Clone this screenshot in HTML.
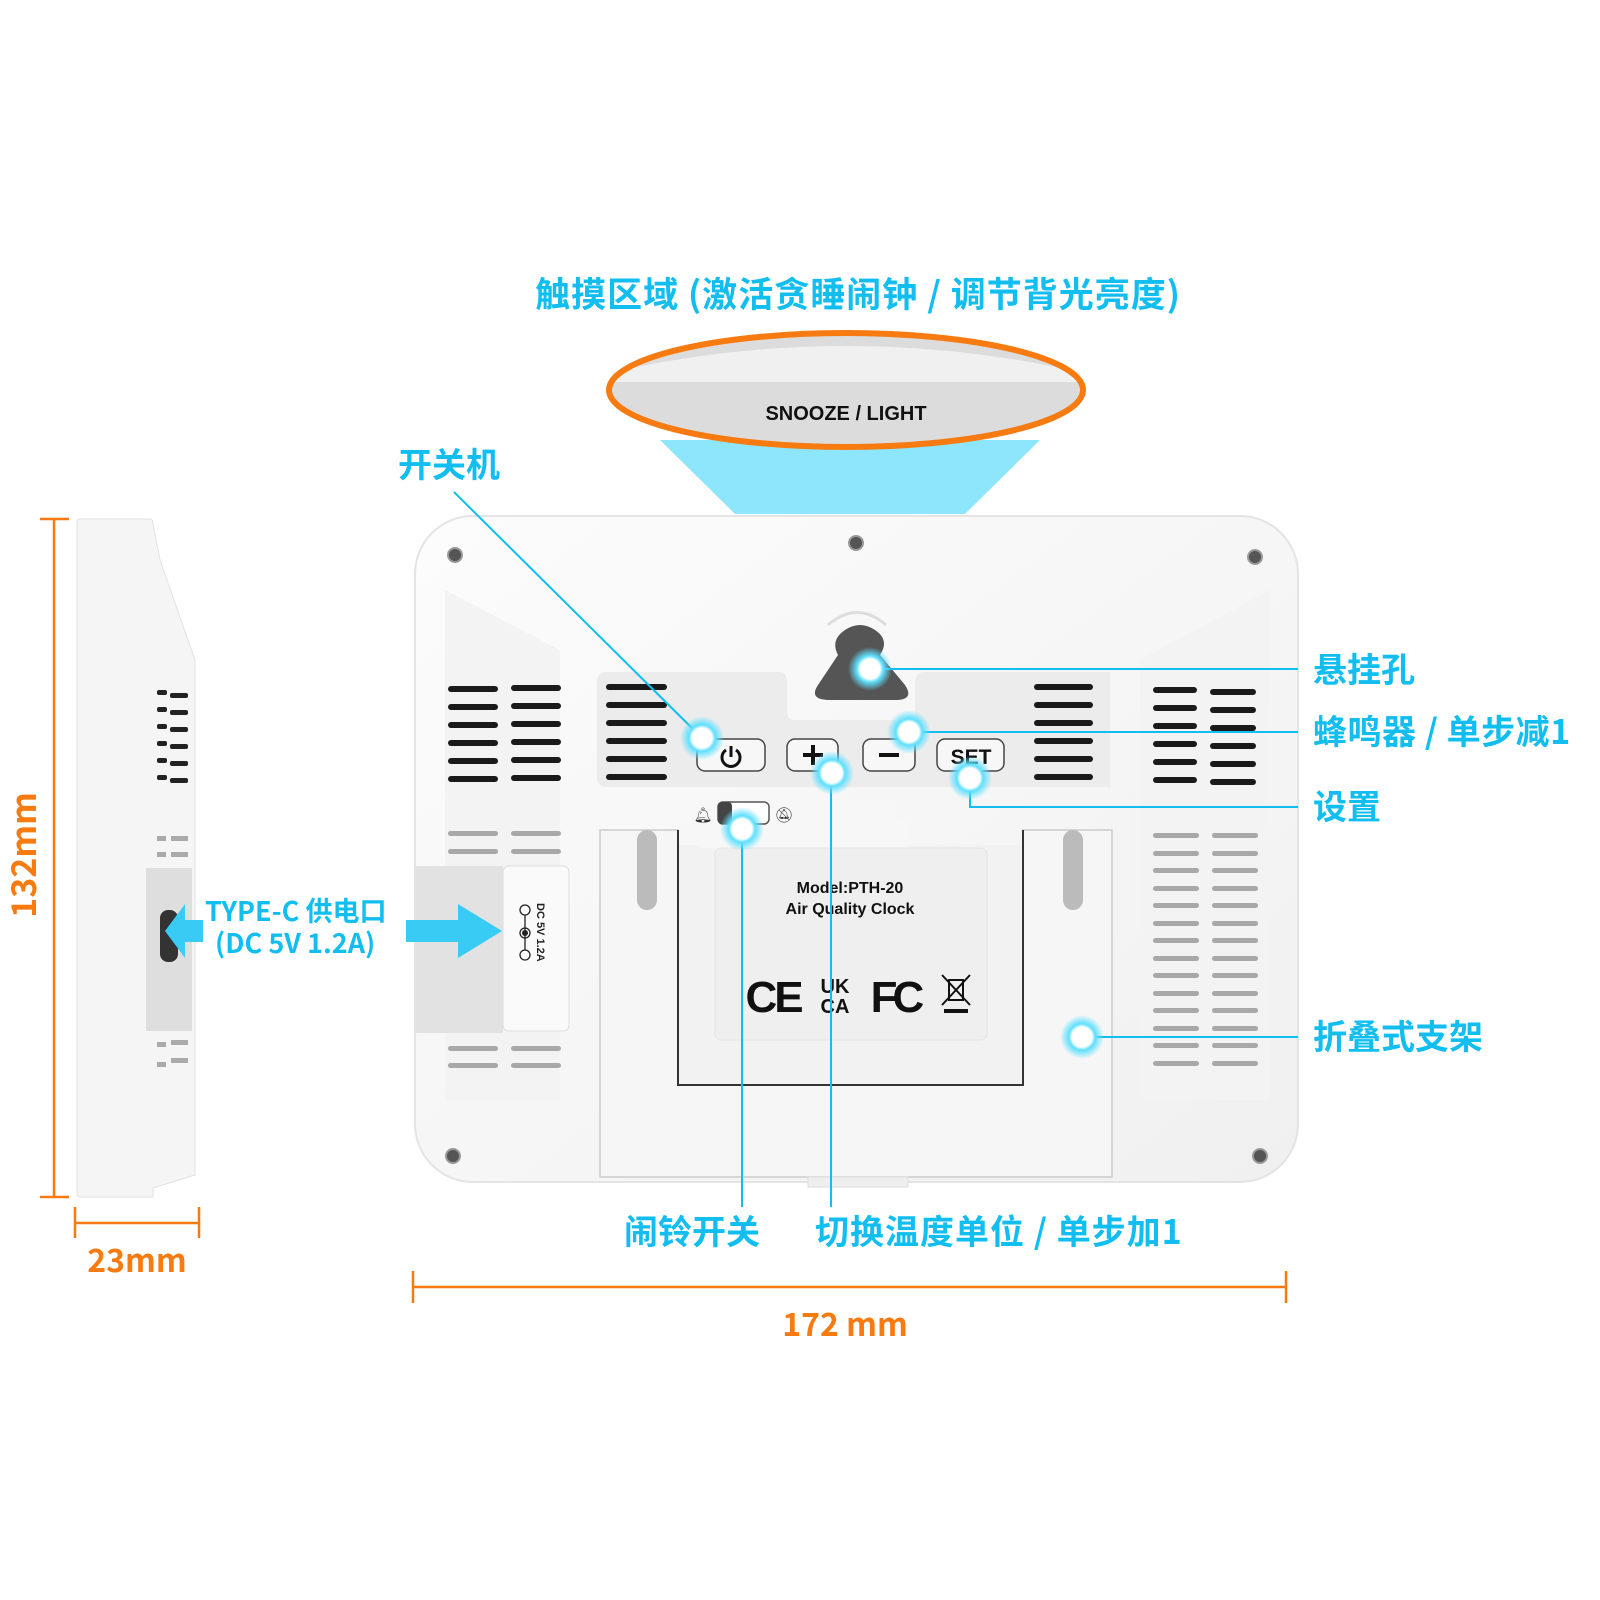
<!DOCTYPE html>
<html><head><meta charset="utf-8"><style>
html,body{margin:0;padding:0;background:#fff;}
svg{display:block;}
text{font-family:"Liberation Sans","Noto Sans CJK SC",sans-serif;}
.cn{font-family:"Noto Sans CJK SC","WenQuanYi Zen Hei",sans-serif;font-weight:700;fill:#12bdf0;}
.or{font-family:"Noto Sans CJK SC",sans-serif;font-weight:700;fill:#f77b10;}
</style></head><body>
<svg width="1600" height="1600" viewBox="0 0 1600 1600" xmlns="http://www.w3.org/2000/svg">
<defs>
<radialGradient id="glow"><stop offset="0.45" stop-color="#fff"/><stop offset="0.6" stop-color="#5fe0ff"/><stop offset="1" stop-color="#5fe0ff" stop-opacity="0"/></radialGradient>
<linearGradient id="body" x1="0" y1="0" x2="1" y2="1"><stop offset="0" stop-color="#fcfcfc"/><stop offset="1" stop-color="#f0f0f0"/></linearGradient>
</defs>

<text class="cn" x="858" y="307" font-size="35" letter-spacing="1" text-anchor="middle">触摸区域 (激活贪睡闹钟 / 调节背光亮度)</text>

<polygon points="660,440 1040,440 965,514 735,514" fill="#8ee6fc"/>
<ellipse cx="846" cy="390" rx="237" ry="57" fill="#dcdcdc"/>
<path d="M612,372 Q846,320 1080,372 L1080,382 L612,382Z" fill="#f0f0f0"/>
<ellipse cx="846" cy="390" rx="237" ry="57" fill="none" stroke="#f77b10" stroke-width="6"/>
<text x="846" y="420" font-size="20" font-weight="700" text-anchor="middle" fill="#111">SNOOZE / LIGHT</text>

<path d="M77,522 Q77,519 80,519 L150,519 Q153,519 153,524 L160,560 L195,660 L195,1175 L153,1188 L153,1197 L80,1197 Q77,1197 77,1192Z" fill="#f5f5f5" stroke="#e2e2e2"/>
<rect x="146" y="868" width="46" height="163" fill="#dedede"/>
<rect x="160" y="910" width="18" height="52" rx="8" fill="#333"/>
<g fill="#222">
<rect x="157" y="690" width="10" height="5" rx="2"/><rect x="170" y="693" width="18" height="5" rx="2"/>
<rect x="157" y="707" width="10" height="5" rx="2"/><rect x="170" y="710" width="18" height="5" rx="2"/>
<rect x="157" y="724" width="10" height="5" rx="2"/><rect x="170" y="727" width="18" height="5" rx="2"/>
<rect x="157" y="741" width="10" height="5" rx="2"/><rect x="170" y="744" width="18" height="5" rx="2"/>
<rect x="157" y="758" width="10" height="5" rx="2"/><rect x="170" y="761" width="18" height="5" rx="2"/>
<rect x="157" y="775" width="10" height="5" rx="2"/><rect x="170" y="778" width="18" height="5" rx="2"/>
</g>
<g fill="#aaa">
<rect x="157" y="836" width="9" height="5"/><rect x="171" y="836" width="17" height="5"/>
<rect x="157" y="852" width="9" height="5"/><rect x="171" y="852" width="17" height="5"/>
<rect x="157" y="1042" width="9" height="5"/><rect x="171" y="1040" width="17" height="5"/>
<rect x="157" y="1062" width="9" height="5"/><rect x="171" y="1058" width="17" height="5"/>
</g>

<g stroke="#f77b10" stroke-width="2.5" fill="none">
<line x1="54" y1="519" x2="54" y2="1197"/><line x1="40" y1="519" x2="69" y2="519"/><line x1="40" y1="1197" x2="69" y2="1197"/>
<line x1="75" y1="1223" x2="199" y2="1223"/><line x1="75" y1="1207" x2="75" y2="1238"/><line x1="199" y1="1207" x2="199" y2="1238"/>
<line x1="413" y1="1287" x2="1286" y2="1287"/><line x1="413" y1="1271" x2="413" y2="1303"/><line x1="1286" y1="1271" x2="1286" y2="1303"/>
</g>
<text class="or" font-size="34" transform="translate(36,855) rotate(-90)" text-anchor="middle">132mm</text>
<text class="or" font-size="32" x="137" y="1272" text-anchor="middle">23mm</text>
<text class="or" font-size="32" x="845" y="1336" text-anchor="middle">172 mm</text>

<rect x="415" y="516" width="883" height="666" rx="58" fill="url(#body)" stroke="#e4e4e4" stroke-width="2"/>
<path d="M445,590 L560,650 L560,1100 L445,1100Z" fill="#f3f3f3"/>
<path d="M1270,590 L1140,660 L1140,1100 L1270,1100Z" fill="#f3f3f3"/>
<path d="M597,682 Q597,672 607,672 L780,672 Q787,672 787,682 L787,712 Q787,720 795,720 L907,720 Q915,720 915,712 L915,682 Q915,672 925,672 L1110,672 L1110,787 L607,787 Q597,787 597,777Z" fill="#ececec"/>
<path d="M838,655 Q830,640 845,630 Q860,620 875,630 Q890,640 880,655 L905,685 Q915,700 895,700 L830,700 Q808,700 818,685Z" fill="#555"/>
<path d="M828,625 Q857,600 886,625" stroke="#ddd" stroke-width="3" fill="none"/>

<g fill="#555" stroke="#999" stroke-width="2">
<circle cx="455" cy="555" r="7"/><circle cx="856" cy="543" r="7"/><circle cx="1255" cy="557" r="7"/><circle cx="453" cy="1156" r="7"/><circle cx="1260" cy="1156" r="7"/>
</g>

<g fill="#1a1a1a">
<rect x="448" y="686" width="50" height="6" rx="3"/><rect x="511" y="685" width="50" height="6" rx="3"/>
<rect x="448" y="704" width="50" height="6" rx="3"/><rect x="511" y="703" width="50" height="6" rx="3"/>
<rect x="448" y="722" width="50" height="6" rx="3"/><rect x="511" y="721" width="50" height="6" rx="3"/>
<rect x="448" y="740" width="50" height="6" rx="3"/><rect x="511" y="739" width="50" height="6" rx="3"/>
<rect x="448" y="758" width="50" height="6" rx="3"/><rect x="511" y="757" width="50" height="6" rx="3"/>
<rect x="448" y="776" width="50" height="6" rx="3"/><rect x="511" y="775" width="50" height="6" rx="3"/>
<rect x="606" y="684" width="61" height="6" rx="3"/><rect x="1034" y="684" width="59" height="6" rx="3"/>
<rect x="606" y="702" width="61" height="6" rx="3"/><rect x="1034" y="702" width="59" height="6" rx="3"/>
<rect x="606" y="720" width="61" height="6" rx="3"/><rect x="1034" y="720" width="59" height="6" rx="3"/>
<rect x="606" y="738" width="61" height="6" rx="3"/><rect x="1034" y="738" width="59" height="6" rx="3"/>
<rect x="606" y="756" width="61" height="6" rx="3"/><rect x="1034" y="756" width="59" height="6" rx="3"/>
<rect x="606" y="774" width="61" height="6" rx="3"/><rect x="1034" y="774" width="59" height="6" rx="3"/>
<rect x="1153" y="687" width="44" height="6" rx="3"/><rect x="1210" y="689" width="46" height="6" rx="3"/>
<rect x="1153" y="705" width="44" height="6" rx="3"/><rect x="1210" y="707" width="46" height="6" rx="3"/>
<rect x="1153" y="723" width="44" height="6" rx="3"/><rect x="1210" y="725" width="46" height="6" rx="3"/>
<rect x="1153" y="741" width="44" height="6" rx="3"/><rect x="1210" y="743" width="46" height="6" rx="3"/>
<rect x="1153" y="759" width="44" height="6" rx="3"/><rect x="1210" y="761" width="46" height="6" rx="3"/>
<rect x="1153" y="777" width="44" height="6" rx="3"/><rect x="1210" y="779" width="46" height="6" rx="3"/>
</g>
<g fill="#a8a8a8">
<rect x="448" y="831" width="50" height="5" rx="2.5"/><rect x="511" y="831" width="50" height="5" rx="2.5"/>
<rect x="448" y="849" width="50" height="5" rx="2.5"/><rect x="511" y="849" width="50" height="5" rx="2.5"/>
<rect x="448" y="1046" width="50" height="5" rx="2.5"/><rect x="511" y="1046" width="50" height="5" rx="2.5"/>
<rect x="448" y="1063" width="50" height="5" rx="2.5"/><rect x="511" y="1063" width="50" height="5" rx="2.5"/>
</g>
<g fill="#a8a8a8">
<rect x="1153" y="833" width="46" height="5" rx="2.5"/><rect x="1212" y="833" width="46" height="5" rx="2.5"/>
<rect x="1153" y="851" width="46" height="5" rx="2.5"/><rect x="1212" y="851" width="46" height="5" rx="2.5"/>
<rect x="1153" y="868" width="46" height="5" rx="2.5"/><rect x="1212" y="868" width="46" height="5" rx="2.5"/>
<rect x="1153" y="886" width="46" height="5" rx="2.5"/><rect x="1212" y="886" width="46" height="5" rx="2.5"/>
<rect x="1153" y="903" width="46" height="5" rx="2.5"/><rect x="1212" y="903" width="46" height="5" rx="2.5"/>
<rect x="1153" y="921" width="46" height="5" rx="2.5"/><rect x="1212" y="921" width="46" height="5" rx="2.5"/>
<rect x="1153" y="938" width="46" height="5" rx="2.5"/><rect x="1212" y="938" width="46" height="5" rx="2.5"/>
<rect x="1153" y="956" width="46" height="5" rx="2.5"/><rect x="1212" y="956" width="46" height="5" rx="2.5"/>
<rect x="1153" y="973" width="46" height="5" rx="2.5"/><rect x="1212" y="973" width="46" height="5" rx="2.5"/>
<rect x="1153" y="991" width="46" height="5" rx="2.5"/><rect x="1212" y="991" width="46" height="5" rx="2.5"/>
<rect x="1153" y="1008" width="46" height="5" rx="2.5"/><rect x="1212" y="1008" width="46" height="5" rx="2.5"/>
<rect x="1153" y="1026" width="46" height="5" rx="2.5"/><rect x="1212" y="1026" width="46" height="5" rx="2.5"/>
<rect x="1153" y="1043" width="46" height="5" rx="2.5"/><rect x="1212" y="1043" width="46" height="5" rx="2.5"/>
<rect x="1153" y="1061" width="46" height="5" rx="2.5"/><rect x="1212" y="1061" width="46" height="5" rx="2.5"/>
</g>

<rect x="415" y="866" width="88" height="167" fill="#e2e2e2"/>
<rect x="503" y="866" width="66" height="165" rx="6" fill="#fafafa" stroke="#ddd"/>
<text font-size="11" font-weight="700" fill="#222" transform="translate(537,903) rotate(90)">DC 5V 1.2A</text>
<g stroke="#222" stroke-width="1.3" fill="none"><circle cx="525" cy="910" r="5"/><circle cx="525" cy="933" r="5"/><circle cx="525" cy="955" r="5"/><line x1="525" y1="915" x2="525" y2="950"/></g>
<circle cx="525" cy="933" r="3" fill="#222"/>

<path d="M600,830 L678,830 L678,1085 L1023,1085 L1023,830 L1112,830 L1112,1177 L600,1177Z" fill="#f6f6f6" stroke="#ccc" stroke-width="1.5"/>
<path d="M678,830 L678,1085 L1023,1085 L1023,830" fill="none" stroke="#333" stroke-width="2"/>
<rect x="637" y="830" width="20" height="80" rx="10" fill="#bbb"/>
<rect x="1063" y="830" width="20" height="80" rx="10" fill="#bbb"/>
<path d="M679,845 L679,1084 L1022,1084 L1022,845" fill="#f2f2f2"/>
<path d="M700,800 L895,800 L895,822 L908,822 L908,848 L987,848 L987,1040 L715,1040 L715,848 L700,848Z" fill="#f7f7f7"/>
<rect x="715" y="848" width="272" height="192" rx="6" fill="#efefef" stroke="#e4e4e4"/>
<rect x="808" y="1177" width="100" height="10" fill="#eee" stroke="#ddd"/>
<text x="850" y="893" font-size="16" font-weight="700" text-anchor="middle" fill="#111">Model:PTH-20</text>
<text x="850" y="914" font-size="16" font-weight="700" text-anchor="middle" fill="#111">Air Quality Clock</text>
<text x="773" y="1012" font-size="44" font-weight="700" text-anchor="middle" fill="#111" letter-spacing="-3">CE</text>
<text x="835" y="993" font-size="20" font-weight="700" text-anchor="middle" fill="#111">UK</text>
<text x="835" y="1013" font-size="20" font-weight="700" text-anchor="middle" fill="#111">CA</text>
<text x="895" y="1012" font-size="44" font-weight="900" text-anchor="middle" fill="#111" letter-spacing="-5">FC</text>
<g stroke="#111" stroke-width="2" fill="none"><rect x="949" y="980" width="14" height="20"/><line x1="942" y1="975" x2="970" y2="1005"/><line x1="970" y1="975" x2="942" y2="1005"/></g>
<rect x="944" y="1009" width="24" height="4" fill="#111"/>

<rect x="718" y="802" width="51" height="22" rx="5" fill="#fff" stroke="#555" stroke-width="1.5"/>
<rect x="718" y="802" width="14" height="22" rx="4" fill="#444"/>
<text x="703" y="820" font-size="15" text-anchor="middle" fill="#333">🔔︎</text>
<text x="784" y="820" font-size="15" text-anchor="middle" fill="#333">🔕︎</text>

<g fill="#f7f7f7" stroke="#444" stroke-width="1.5">
<rect x="697" y="739" width="68" height="32" rx="8"/>
<rect x="787" y="739" width="51" height="32" rx="8"/>
<rect x="863" y="739" width="52" height="32" rx="8"/>
<rect x="937" y="739" width="67" height="32" rx="8"/>
</g>
<path d="M726,750 A9,9 0 1 0 736,750" stroke="#111" stroke-width="3" fill="none"/>
<line x1="731" y1="746" x2="731" y2="757" stroke="#111" stroke-width="3"/>
<line x1="803" y1="755" x2="823" y2="755" stroke="#111" stroke-width="4"/><line x1="813" y1="745" x2="813" y2="765" stroke="#111" stroke-width="4"/>
<line x1="879" y1="755" x2="899" y2="755" stroke="#111" stroke-width="4"/>
<text x="971" y="764" font-size="21" font-weight="700" text-anchor="middle" fill="#111">SET</text>

<polygon points="406,920 458,920 458,904 502,931 458,958 458,942 406,942" fill="#38cbf4"/>
<polygon points="203,920 185,920 185,904 165,931 185,958 185,942 203,942" fill="#38cbf4"/>
<text class="cn" x="205" y="921" font-size="27">TYPE-C 供电口</text>
<text class="cn" x="215" y="953" font-size="27">(DC 5V 1.2A)</text>

<g stroke="#12bdf0" stroke-width="2" fill="none">
<line x1="454" y1="492" x2="702" y2="738"/>
<line x1="870" y1="669" x2="1298" y2="669"/>
<line x1="909" y1="732" x2="1298" y2="732"/>
<polyline points="970,778 970,807 1298,807"/>
<line x1="1082" y1="1037" x2="1298" y2="1037"/>
<line x1="742" y1="829" x2="742" y2="1207"/>
<line x1="831" y1="773" x2="831" y2="1207"/>
</g>
<g fill="url(#glow)">
<circle cx="702" cy="738" r="22"/><circle cx="870" cy="669" r="22"/><circle cx="909" cy="732" r="22"/><circle cx="832" cy="773" r="22"/><circle cx="970" cy="778" r="22"/><circle cx="742" cy="829" r="22"/><circle cx="1082" cy="1037" r="22"/>
</g>

<text class="cn" x="398" y="477" font-size="34">开关机</text>
<text class="cn" x="1313" y="682" font-size="34">悬挂孔</text>
<text class="cn" x="1313" y="744" font-size="34" letter-spacing="0.5">蜂鸣器 / 单步减1</text>
<text class="cn" x="1313" y="819" font-size="34">设置</text>
<text class="cn" x="1313" y="1049" font-size="34">折叠式支架</text>
<text class="cn" x="624" y="1244" font-size="34">闹铃开关</text>
<text class="cn" x="815" y="1244" font-size="34" letter-spacing="1">切换温度单位 / 单步加1</text>
</svg>
</body></html>
